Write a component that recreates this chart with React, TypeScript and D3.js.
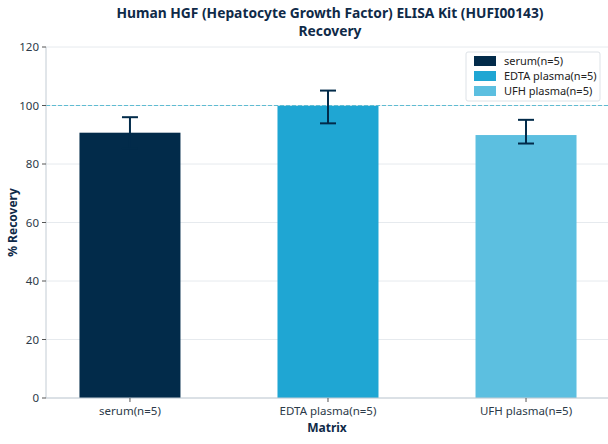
import React from "react";
import * as d3 from "d3";

const categories = ["serum(n=5)", "EDTA plasma(n=5)", "UFH plasma(n=5)"];
const recovery = [90.7, 99.9, 89.9];
const errLow = [85.4, 93.9, 87.0];
const errHigh = [96.0, 105.1, 95.1];
const colors = ["#022b4a", "#1fa6d3", "#5cbfe0"];
const yTicks = [0, 20, 40, 60, 80, 100, 120];

const width = 608;
const height = 444;
const marginLeft = 46;
const marginRight = 0;
const marginTop = 47;
const marginBottom = 46;
const font = "'Noto Sans', 'Open Sans', sans-serif";
const navy = "#0f2a48";

export default function App() {
  const x = d3.scaleLinear([-0.424, 2.414], [marginLeft, width - marginRight]);
  const y = d3.scaleLinear([0, 120], [height - marginBottom, marginTop]);
  const barW = x(0.51) - x(0);

  return (
    <svg
      width={width}
      height={height}
      style={{ position: "absolute", left: 0, top: 0, fontFamily: font }}
    >
      <rect width={width} height={height} fill="#fff" />
      <text x={330} y={18} textAnchor="middle" fontSize={13.8} fontWeight="bold" fill={navy}>
        Human HGF (Hepatocyte Growth Factor) ELISA Kit (HUFI00143)
      </text>
      <text x={330} y={36} textAnchor="middle" fontSize={13.8} fontWeight="bold" fill={navy}>
        Recovery
      </text>

      {/* grid */}
      {yTicks.map((t) => (
        <line key={t} x1={marginLeft} x2={width} y1={y(t)} y2={y(t)} stroke="#e6eaee" strokeWidth={1} />
      ))}

      {/* bars */}
      {recovery.map((v, i) => (
        <rect
          key={i}
          x={x(i) - barW / 2}
          y={y(v)}
          width={barW}
          height={y(0) - y(v)}
          fill={colors[i]}
        />
      ))}

      {/* reference line */}
      <line
        x1={marginLeft}
        x2={width}
        y1={y(100)}
        y2={y(100)}
        stroke="#5fbcd2"
        strokeWidth={1}
        strokeDasharray="4,2"
      />

      {/* error bars */}
      {recovery.map((v, i) => (
        <g key={i} stroke="#022b4a" strokeWidth={2}>
          <line x1={x(i)} x2={x(i)} y1={y(errLow[i])} y2={y(errHigh[i])} />
          <line x1={x(i) - 8} x2={x(i) + 8} y1={y(errLow[i])} y2={y(errLow[i])} />
          <line x1={x(i) - 8} x2={x(i) + 8} y1={y(errHigh[i])} y2={y(errHigh[i])} />
        </g>
      ))}

      {/* axes */}
      <line x1={marginLeft} x2={marginLeft} y1={marginTop} y2={y(0)} stroke="#c3ccd4" />
      <line x1={marginLeft} x2={width} y1={y(0)} y2={y(0)} stroke="#c3ccd4" />
      {yTicks.map((t) => (
        <g key={t}>
          <line x1={marginLeft - 4} x2={marginLeft} y1={y(t)} y2={y(t)} stroke="#555" />
          <text x={marginLeft - 7} y={y(t)} dy="0.35em" textAnchor="end" fontSize={11.5} fill="#2c3a48">
            {t}
          </text>
        </g>
      ))}
      {categories.map((c, i) => (
        <g key={c}>
          <line x1={x(i)} x2={x(i)} y1={y(0)} y2={y(0) + 4} stroke="#555" />
          <text x={x(i)} y={y(0) + 17} textAnchor="middle" fontSize={11.5} fill="#2c3a48">
            {c}
          </text>
        </g>
      ))}
      <text x={327} y={432} textAnchor="middle" fontSize={12} fontWeight="bold" fill={navy}>
        Matrix
      </text>
      <text
        transform={`translate(17,${(marginTop + y(0)) / 2}) rotate(-90)`}
        textAnchor="middle"
        fontSize={12}
        fontWeight="bold"
        fill={navy}
      >
        % Recovery
      </text>

      {/* legend */}
      <g>
        <rect x={466} y={52} width={134} height={49} rx={2} fill="#fff" stroke="#dde2e7" />
        {categories.map((c, i) => (
          <g key={c} transform={`translate(474,${61 + i * 15})`}>
            <rect x={0} y={-5} width={22} height={10} fill={colors[i]} />
            <text x={30} y={0} dy="0.35em" fontSize={11} fill="#222">
              {c}
            </text>
          </g>
        ))}
      </g>
    </svg>
  );
}
